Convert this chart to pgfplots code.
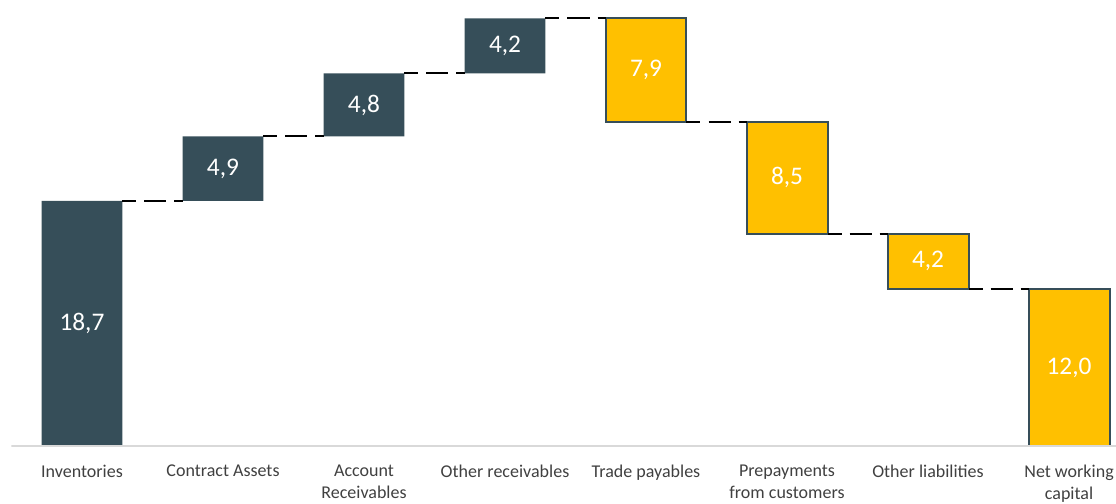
\documentclass[border=0pt]{standalone}
\usepackage{pgfplots}
\pgfplotsset{compat=1.18}
\usepackage{pgfplotstable}
\usepackage{fontspec}
\setmainfont{Carlito}

\definecolor{slate}{HTML}{364E59}
\definecolor{amber}{HTML}{FFC000}
\definecolor{lbl}{HTML}{404040}
\definecolor{axisgray}{HTML}{D9D9D9}

% shared frame for both axes
\pgfplotsset{wf/.style={
  width=828pt, height=334.5pt, scale only axis,
  xmin=-0.5, xmax=7.333, ymin=0, ymax=34,
  axis line style={draw=none}, ytick=\empty,
  major tick length=0pt,
},
conn/.style={black, line width=1.5pt, dash pattern=on 16.5pt off 6pt, dash phase=6pt, mark=none}}

% value labels at the middle of each bar
\pgfplotstableread{
x y label
0 9.35 18,7
1 21.15 4,9
2 26.0 4,8
3 30.5 4,2
4 28.65 7,9
5 20.45 8,5
6 14.1 4,2
7 6.0 12,0
}\labels

\begin{document}
\begin{tikzpicture}
\begin{axis}[wf, ybar stacked, bar width=0.574,
  xtick={0,...,7},
  xticklabels={Inventories, Contract Assets, {Account\\Receivables}, Other receivables,
    Trade payables, {Prepayments\\from customers}, Other liabilities, {Net working\\capital}},
  xticklabel style={font=\fontsize{13.5}{16.5}\selectfont, text=lbl, align=center, anchor=north, yshift=-10.5pt},
]
\draw[draw=axisgray, line width=1.5pt] (rel axis cs:0,0) -- (rel axis cs:1,0);
% invisible base
\addplot[draw=none, fill=none] coordinates {
  (0,0) (1,18.7) (2,23.6) (3,28.4) (4,24.7) (5,16.2) (6,12.0) (7,0)};
% increases
\addplot[draw=none, fill=slate] coordinates {
  (0,18.7) (1,4.9) (2,4.8) (3,4.2) (4,0) (5,0) (6,0) (7,0)};
% decreases and total
\addplot[draw=slate, line width=1.5pt, fill=amber] coordinates {
  (0,0) (1,0) (2,0) (3,0) (4,7.9) (5,8.5) (6,4.2) (7,12.0)};
\coordinate (bl) at (rel axis cs:0,0);
\coordinate (tr) at (rel axis cs:1,1);
\end{axis}

\begin{axis}[wf, xtick=\empty]
\addplot[conn] coordinates {(0.287,18.7) (0.713,18.7)};
\addplot[conn] coordinates {(1.287,23.6) (1.713,23.6)};
\addplot[conn] coordinates {(2.287,28.4) (2.713,28.4)};
\addplot[conn] coordinates {(3.287,32.6) (3.713,32.6)};
\addplot[conn] coordinates {(4.287,24.7) (4.713,24.7)};
\addplot[conn] coordinates {(5.287,16.2) (5.713,16.2)};
\addplot[conn] coordinates {(6.287,12.0) (6.713,12.0)};
\addplot[draw=none, mark=none, nodes near coords, point meta=explicit symbolic,
  every node near coord/.append style={anchor=center, text=white, font=\fontsize{19}{22}\selectfont}]
  table[x=x, y=y, meta=label] {\labels};
\end{axis}

\pgfresetboundingbox
\path ([xshift=-8.6pt, yshift=-42.75pt]bl) rectangle (tr);
\end{tikzpicture}
\end{document}
